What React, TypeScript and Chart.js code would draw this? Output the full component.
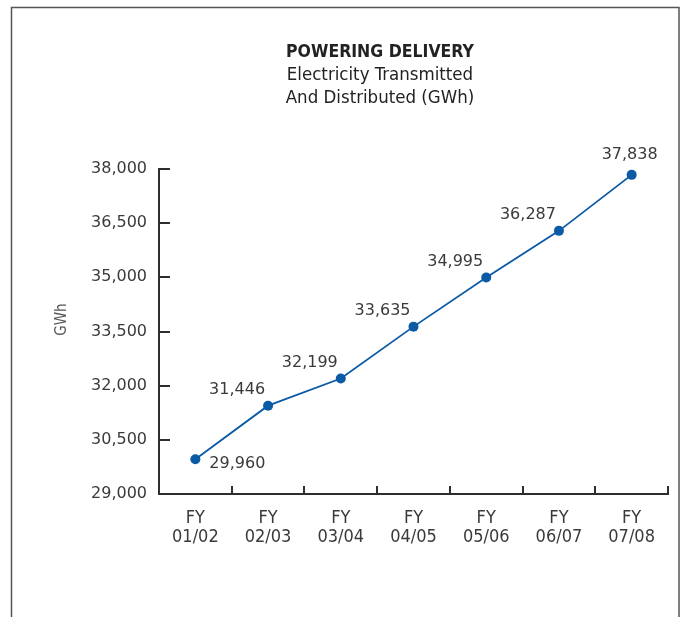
import React, { useEffect, useRef } from 'react';
import { Chart, registerables } from 'chart.js';

Chart.register(...registerables);

// ---- data ----
const CATEGORIES: string[][] = [
  ['FY', '01/02'],
  ['FY', '02/03'],
  ['FY', '03/04'],
  ['FY', '04/05'],
  ['FY', '05/06'],
  ['FY', '06/07'],
  ['FY', '07/08'],
];
const VALUES: number[] = [29960, 31446, 32199, 33635, 34995, 36287, 37838];
const Y_MIN = 29000;
const Y_MAX = 38000;
const Y_STEP = 1500;
const TITLE = 'POWERING DELIVERY';
const SUBTITLE_LINES: string[] = ['Electricity Transmitted', 'And Distributed (GWh)'];
const Y_TITLE = 'GWh';
// where each value label sits relative to its point
const LABEL_PLACEMENT: string[] = ['below-right', 'above-left', 'above-left', 'above-left', 'above-left', 'above-left', 'above'];

// ---- styles ----
const W = 681;
const H = 617;
const LINE_COLOR = '#0a5aa6';
const AXIS_COLOR = '#2e2e2e';
const TEXT_COLOR = '#3a3a3a';
const NARROW = '"Liberation Sans Narrow", "DejaVu Sans Condensed", "Liberation Sans", sans-serif';
const WIDE = '"DejaVu Sans", "Liberation Sans", sans-serif';

const fmt = (v: number) => v.toLocaleString('en-US');

const decorPlugin = {
  id: 'decor',
  afterDraw(chart: any) {
    const { ctx, chartArea, scales } = chart;
    const x = scales.x;
    const y = scales.y;
    ctx.save();

    // frame
    ctx.strokeStyle = '#555';
    ctx.lineWidth = 1.5;
    ctx.beginPath();
    ctx.moveTo(11.5, H);
    ctx.lineTo(11.5, 7.5);
    ctx.lineTo(679, 7.5);
    ctx.lineTo(679, H);
    ctx.stroke();

    // inside tick marks
    ctx.strokeStyle = AXIS_COLOR;
    ctx.lineWidth = 2;
    ctx.beginPath();
    y.ticks.forEach((t: any) => {
      const py = Math.round(y.getPixelForValue(t.value));
      ctx.moveTo(chartArea.left, py);
      ctx.lineTo(chartArea.left + 11, py);
    });
    for (let i = 0; i <= CATEGORIES.length; i++) {
      const px = Math.round(x.getPixelForValue(i - 0.5));
      ctx.moveTo(px, chartArea.bottom);
      ctx.lineTo(px, chartArea.bottom - 8);
    }
    ctx.stroke();

    // y axis title
    ctx.save();
    ctx.fillStyle = '#555';
    ctx.font = `15px ${NARROW}`;
    ctx.textAlign = 'center';
    ctx.textBaseline = 'middle';
    ctx.translate(62, (chartArea.top + chartArea.bottom) / 2 - 12);
    ctx.rotate(-Math.PI / 2);
    ctx.fillText(Y_TITLE, 0, 0);
    ctx.restore();

    // value labels
    const meta = chart.getDatasetMeta(0);
    ctx.fillStyle = TEXT_COLOR;
    ctx.font = `16px ${WIDE}`;
    ctx.textBaseline = 'middle';
    meta.data.forEach((pt: any, i: number) => {
      const txt = fmt(VALUES[i]);
      const place = LABEL_PLACEMENT[i];
      if (place === 'below-right') {
        ctx.textAlign = 'left';
        ctx.fillText(txt, pt.x + 14, pt.y + 5);
      } else if (place === 'above') {
        ctx.textAlign = 'center';
        ctx.fillText(txt, pt.x - 2, pt.y - 20);
      } else {
        ctx.textAlign = 'right';
        ctx.fillText(txt, pt.x - 3, pt.y - 16);
      }
    });

    // title
    ctx.fillStyle = '#222';
    ctx.textAlign = 'center';
    ctx.textBaseline = 'alphabetic';
    const cx = 380;
    ctx.font = `bold 17.5px ${NARROW}`;
    ctx.fillText(TITLE, cx, 57);
    ctx.font = `18.5px ${NARROW}`;
    SUBTITLE_LINES.forEach((s, i) => ctx.fillText(s, cx, 80 + i * 23));
    ctx.restore();
  },
};

export default function App() {
  const ref = useRef<HTMLCanvasElement | null>(null);
  useEffect(() => {
    if (!ref.current) return;
    const chart = new Chart(ref.current, {
      type: 'line',
      data: {
        labels: CATEGORIES,
        datasets: [
          {
            data: VALUES,
            borderColor: LINE_COLOR,
            backgroundColor: LINE_COLOR,
            borderWidth: 1.8,
            pointRadius: 5,
            pointBorderWidth: 0,
            pointBackgroundColor: LINE_COLOR,
            tension: 0,
          },
        ],
      },
      plugins: [decorPlugin],
      options: {
        responsive: false,
        animation: false,
        layout: { padding: { left: 48, right: 13, top: 169, bottom: 0 } },
        plugins: {
          legend: { display: false },
          title: { display: false },
          tooltip: { enabled: false },
        },
        scales: {
          x: {
            type: 'category',
            offset: true,
            grid: { display: true, drawOnChartArea: false, drawTicks: false, offset: true },
            border: { display: true, color: AXIS_COLOR, width: 2 },
            ticks: {
              autoSkip: false,
              maxRotation: 0,
              padding: 14,
              color: TEXT_COLOR,
              font: { family: NARROW, size: 18, lineHeight: 1.1 },
            },
            afterFit: (s: any) => {
              s.height = H - 494;
            },
          },
          y: {
            min: Y_MIN,
            max: Y_MAX,
            grid: { display: true, drawOnChartArea: false, drawTicks: false },
            border: { display: true, color: AXIS_COLOR, width: 2 },
            ticks: {
              stepSize: Y_STEP,
              padding: 12,
              color: TEXT_COLOR,
              font: { family: WIDE, size: 16 },
              callback: (v: any) => fmt(Number(v)),
            },
            title: { display: false },
            afterFit: (s: any) => {
              s.width = 159 - 48;
            },
          },
        },
      },
    });
    return () => chart.destroy();
  }, []);
  return (
    <div style={{ position: 'absolute', left: 0, top: 0, width: W, height: H, background: '#fff' }}>
      <canvas ref={ref} width={W} height={H} style={{ display: 'block' }} />
    </div>
  );
}
